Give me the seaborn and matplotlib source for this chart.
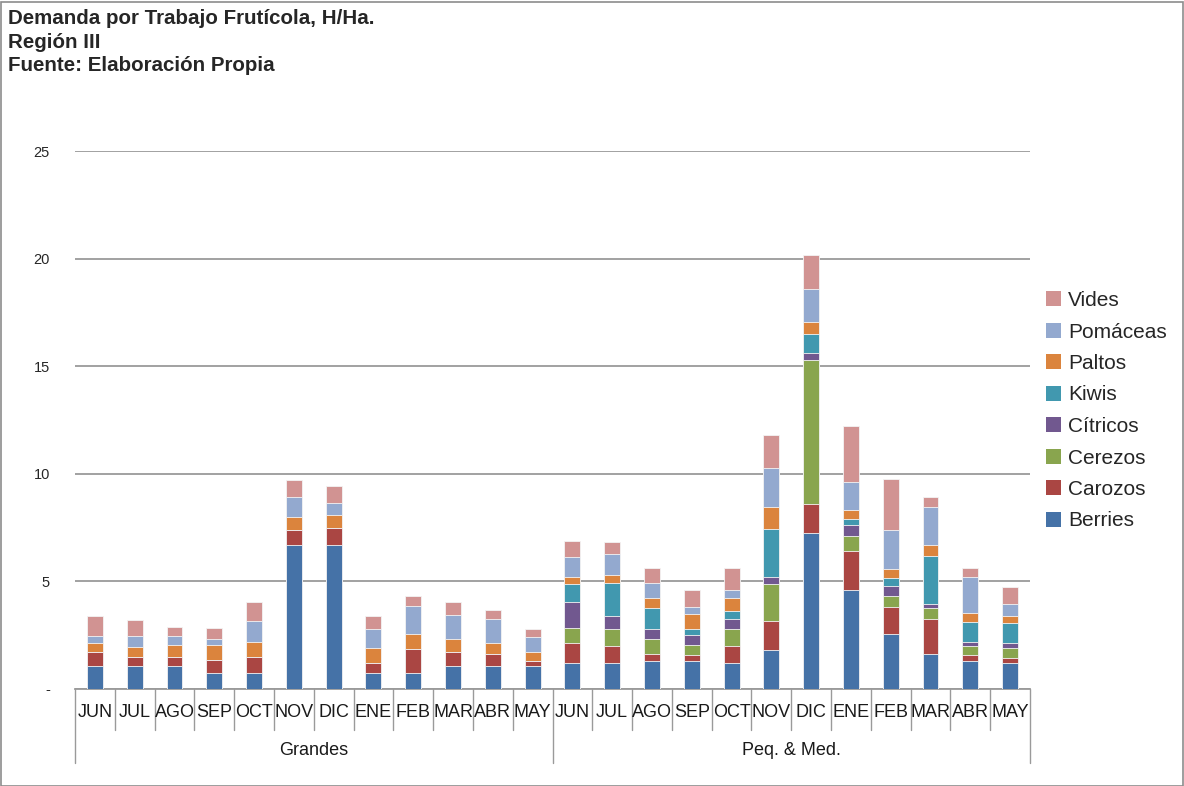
import numpy as np
import pandas as pd
import matplotlib.pyplot as plt
import seaborn as sns
from matplotlib.patches import Patch, Rectangle
import matplotlib.transforms as mtransforms

meses = ["JUN", "JUL", "AGO", "SEP", "OCT", "NOV", "DIC", "ENE", "FEB", "MAR", "ABR", "MAY"]
grupos = ["Grandes", "Peq. & Med."]

# valores: 12 meses Grandes + 12 meses Peq. & Med.
berries = [1.08, 1.08, 1.08, 0.73, 0.73, 6.70, 6.70, 0.73, 0.73, 1.08, 1.08, 1.08,
           1.22, 1.22, 1.29, 1.29, 1.22, 1.83, 7.23, 4.59, 2.56, 1.64, 1.29, 1.22]
carozos = [0.62, 0.42, 0.42, 0.63, 0.77, 0.70, 0.76, 0.49, 1.12, 0.63, 0.56, 0.22,
           0.90, 0.78, 0.35, 0.29, 0.78, 1.35, 1.35, 1.81, 1.25, 1.62, 0.28, 0.21]
cerezos = [0, 0, 0, 0, 0, 0, 0, 0, 0, 0, 0, 0,
           0.72, 0.78, 0.70, 0.48, 0.78, 1.68, 6.70, 0.72, 0.50, 0.49, 0.43, 0.49]
citricos = [0, 0, 0, 0, 0, 0, 0, 0, 0, 0, 0, 0,
            1.19, 0.62, 0.44, 0.44, 0.48, 0.36, 0.32, 0.49, 0.49, 0.22, 0.20, 0.20]
kiwis = [0, 0, 0, 0, 0, 0, 0, 0, 0, 0, 0, 0,
         0.84, 1.54, 0.97, 0.28, 0.35, 2.23, 0.89, 0.28, 0.36, 2.23, 0.92, 0.94]
paltos = [0.44, 0.44, 0.56, 0.70, 0.70, 0.57, 0.63, 0.70, 0.71, 0.63, 0.48, 0.41,
          0.34, 0.35, 0.50, 0.69, 0.64, 0.99, 0.58, 0.42, 0.41, 0.50, 0.43, 0.35]
pomaceas = [0.34, 0.54, 0.42, 0.28, 0.98, 0.97, 0.56, 0.86, 1.32, 1.12, 1.14, 0.71,
            0.91, 0.99, 0.69, 0.34, 0.34, 1.81, 1.51, 1.33, 1.83, 1.74, 1.67, 0.56]
vides = [0.92, 0.71, 0.42, 0.48, 0.85, 0.78, 0.78, 0.62, 0.43, 0.57, 0.41, 0.36,
         0.78, 0.54, 0.70, 0.78, 1.05, 1.54, 1.57, 2.59, 2.38, 0.50, 0.42, 0.76]

series = ["Berries", "Carozos", "Cerezos", "Cítricos", "Kiwis", "Paltos", "Pomáceas", "Vides"]
valores = [berries, carozos, cerezos, citricos, kiwis, paltos, pomaceas, vides]
colores = ["#4572A7", "#AA4643", "#89A54E", "#71588F", "#4198AF", "#DB843D", "#93A9CF", "#D19392"]

df = pd.DataFrame(dict(zip(series, valores)))
df["pos"] = np.arange(len(df))
acum = df[series].cumsum(axis=1)

sns.set_theme(style="white")
plt.rcParams["font.family"] = ["Liberation Sans", "DejaVu Sans"]

fig = plt.figure(figsize=(11.84, 7.86), dpi=100)
ax = fig.add_axes([75 / 1184, 1 - 689 / 786, (1030 - 75) / 1184, (689 - 151) / 786])

# barras apiladas: se dibuja primero el acumulado mayor
for s, c in reversed(list(zip(series, colores))):
    sns.barplot(x=df["pos"], y=acum[s], color=c, width=0.4, ax=ax,
                edgecolor="#f4f4f4", linewidth=0.6, saturation=1, zorder=3)

ax.set_ylim(0, 25)
ax.set_xlim(-0.5, 23.5)
ax.set_yticks([0, 5, 10, 15, 20, 25])
ax.set_yticklabels(["-", "5", "10", "15", "20", "25"], fontsize=10.5)
ax.tick_params(axis="y", length=0, pad=18)
ax.set_xticks([])
ax.set_xlabel("")
ax.set_ylabel("")
for sp in ["top", "right", "left"]:
    ax.spines[sp].set_visible(False)
ax.spines["bottom"].set_color("#9a9a9a")
ax.spines["bottom"].set_linewidth(1.3)
ax.yaxis.grid(True, color="#9a9a9a", linewidth=1.3)
ax.set_axisbelow(True)

# eje de categorias en dos niveles
trans = mtransforms.blended_transform_factory(ax.transData, ax.transAxes)
for i in range(25):
    fondo = -0.1375 if i % 12 == 0 else -0.0762
    ax.plot([i - 0.5, i - 0.5], [0, fondo], color="#9a9a9a", linewidth=1.0,
            transform=trans, clip_on=False)
for i in range(24):
    ax.text(i, -0.043, meses[i % 12], transform=trans, ha="center", va="center",
            fontsize=13, color="#1a1a1a")
for g, nombre in enumerate(grupos):
    ax.text(g * 12 + 5.5, -0.115, nombre, transform=trans, ha="center", va="center",
            fontsize=13, color="#1a1a1a")

handles = [Patch(facecolor=c, edgecolor="none", label=s) for s, c in zip(series, colores)]
fig.legend(handles=handles[::-1], loc="upper left", bbox_to_anchor=(1046 / 1184, 1 - 291 / 786),
           frameon=False, fontsize=15, handlelength=0.7, handleheight=0.7,
           handletextpad=0.35, labelspacing=0.6, borderpad=0, borderaxespad=0)

fig.text(8 / 1184, 1 - 9 / 786,
         "Demanda por Trabajo Frutícola, H/Ha.\nRegión III\nFuente: Elaboración Propia",
         ha="left", va="top", fontsize=14.8, fontweight="bold", linespacing=1.3)

fig.patches.append(Rectangle((0.5 / 1184, 0.5 / 786), 1 - 2 / 1184, 1 - 2 / 786,
                             transform=fig.transFigure, fill=False,
                             edgecolor="#8c8c8c", linewidth=1.2))

fig.savefig("out.png", dpi=100)
